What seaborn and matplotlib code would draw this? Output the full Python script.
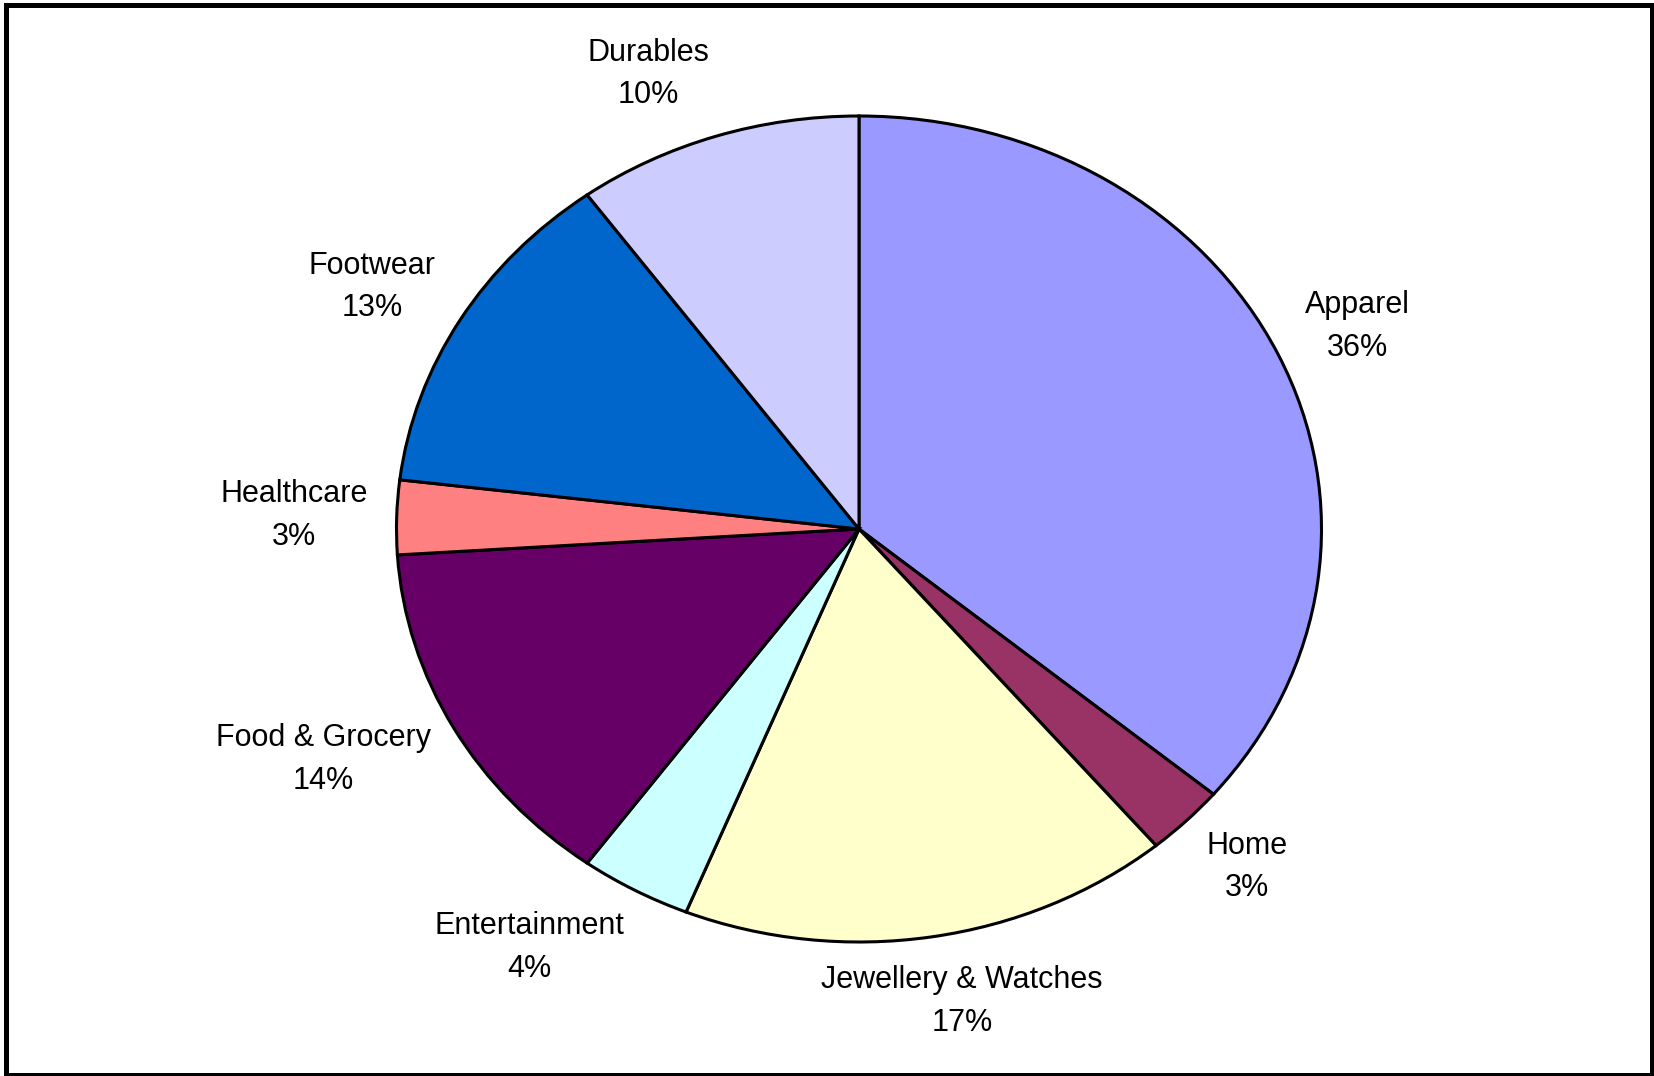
import matplotlib
matplotlib.use("Agg")
import matplotlib.pyplot as plt
import seaborn as sns
import numpy as np
from matplotlib.patches import Rectangle

# ---- data ----
categories = ["Apparel", "Home", "Jewellery & Watches", "Entertainment",
              "Food & Grocery", "Healthcare", "Footwear", "Durables"]
shares = [36.1, 2.8, 17.2, 3.9, 14.0, 2.9, 13.1, 10.0]
colors = ["#9999FF", "#993366", "#FFFFCC", "#CCFFFF",
          "#660066", "#FF8080", "#0066CC", "#CCCCFF"]

sns.set_theme(style="white")
plt.rcParams["font.family"] = ["Liberation Sans", "DejaVu Sans"]

W, H, DPI = 1654, 1076, 100
fig = plt.figure(figsize=(W / DPI, H / DPI), dpi=DPI)
fig.patch.set_facecolor("white")

# axes exactly spanning the (elliptical) pie
cx, cy, rx, ry = 859.0, 529.0, 462.5, 413.0
ax = fig.add_axes([(cx - rx) / W, (H - cy - ry) / H, 2 * rx / W, 2 * ry / H])
wedges, _ = ax.pie(shares, colors=colors, startangle=90, counterclock=False,
                   radius=1.0, center=(0, 0),
                   wedgeprops=dict(edgecolor="black", linewidth=2.2))
ax.set_aspect("auto")
ax.set_xlim(-1, 1)
ax.set_ylim(-1, 1)
ax.axis("off")

# labels placed Excel-style: text box just outside the wedge's mid-angle
total = sum(shares)
cum = 0.0
fig.canvas.draw()
renderer = fig.canvas.get_renderer()
for cat, val, w in zip(categories, shares, wedges):
    mid = (cum + val / 2) / total * 360.0  # clockwise from top
    cum += val
    phi = np.deg2rad(90 - mid)
    c, s = np.cos(phi), np.sin(phi)
    ax_pt = ax.transData.transform((1.07 * c, 1.07 * s))
    t = ax.text(0, 0, f"{cat}\n{val:.0f}%", ha="center", va="center",
                multialignment="center", fontsize=22, color="black",
                linespacing=1.55, clip_on=False)
    bb = t.get_window_extent(renderer=renderer)
    fx = np.sign(c) * np.clip((abs(c) - 0.12) / 0.19, 0, 1) * 0.95
    px = ax_pt[0] + bb.width / 2 * fx
    py = ax_pt[1] + bb.height / 2 * s
    t.set_position(ax.transData.inverted().transform((px, py)))

# outer frame
fig.patches.append(Rectangle((5.5 / W, 1.5 / H), (1651.5 - 5.5) / W, (1071.5 - 1.5) / H,
                             transform=fig.transFigure, fill=False,
                             edgecolor="black", linewidth=3.6))

fig.savefig("out.png", dpi=DPI, facecolor="white")
